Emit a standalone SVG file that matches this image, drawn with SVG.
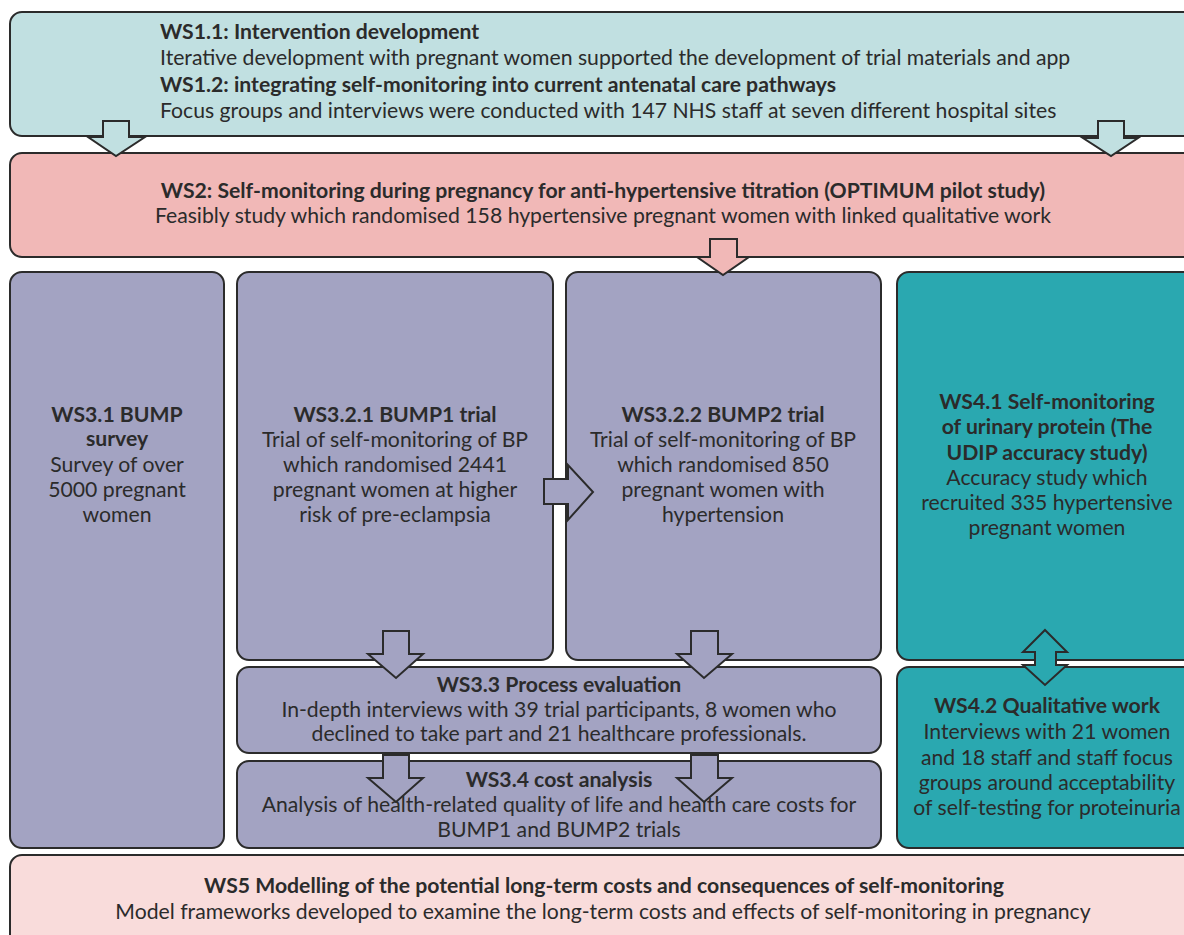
<svg xmlns="http://www.w3.org/2000/svg" width="1184" height="935" viewBox="0 0 1184 935">
<style>
.box{stroke:#2b2b2b;stroke-width:2}
.ws1{fill:#c1e0e1}
.ws2{fill:#f1b8b7}
.pur{fill:#a3a3c2}
.teal{fill:#2aa8b0}
.ws5{fill:#f9dcdb}
.arr{stroke:#2b2b2b;stroke-width:2;stroke-linejoin:miter}
text{font-family:Lato,"Noto Sans","Liberation Sans",sans-serif;font-size:21.2px;fill:#2b2b2b}
.b{font-weight:bold}
.c{text-anchor:middle}
</style>
<rect width="1184" height="935" fill="#ffffff"/>
<g id="ws1">
<rect class="box ws1" x="10" y="12" width="1200" height="124" rx="12"/>
<text x="160" y="39" class="b">WS1.1: Intervention development</text>
<text x="160" y="65">Iterative development with pregnant women supported the development of trial materials and app</text>
<text x="160" y="92" class="b">WS1.2: integrating self-monitoring into current antenatal care pathways</text>
<text x="160" y="118">Focus groups and interviews were conducted with 147 NHS staff at seven different hospital sites</text>
</g>
<g id="ws2">
<rect class="box ws2" x="10" y="153" width="1200" height="104" rx="12"/>
<text x="603" y="198" class="b c">WS2: Self-monitoring during pregnancy for anti-hypertensive titration (OPTIMUM pilot study)</text>
<text x="603" y="223" class="c">Feasibly study which randomised 158 hypertensive pregnant women with linked qualitative work</text>
</g>
<g id="ws31">
<rect class="box pur" x="10" y="272" width="214" height="576" rx="12"/>
<text x="117" y="422" class="b c">WS3.1 BUMP</text>
<text x="117" y="446" class="b c">survey</text>
<text x="117" y="472" class="c">Survey of over</text>
<text x="117" y="497" class="c">5000 pregnant</text>
<text x="117" y="522" class="c">women</text>
</g>
<g id="ws321">
<rect class="box pur" x="237" y="272" width="316" height="388" rx="12"/>
<text x="395" y="422" class="b c">WS3.2.1 BUMP1 trial</text>
<text x="395" y="447" class="c">Trial of self-monitoring of BP</text>
<text x="395" y="472" class="c">which randomised 2441</text>
<text x="395" y="497" class="c">pregnant women at higher</text>
<text x="395" y="522" class="c">risk of pre-eclampsia</text>
</g>
<g id="ws322">
<rect class="box pur" x="566" y="272" width="315" height="388" rx="12"/>
<text x="723" y="422" class="b c">WS3.2.2 BUMP2 trial</text>
<text x="723" y="447" class="c">Trial of self-monitoring of BP</text>
<text x="723" y="472" class="c">which randomised 850</text>
<text x="723" y="497" class="c">pregnant women with</text>
<text x="723" y="522" class="c">hypertension</text>
</g>
<g id="ws41">
<rect class="box teal" x="897" y="272" width="320" height="388" rx="12"/>
<text x="1047" y="409" class="b c">WS4.1 Self-monitoring</text>
<text x="1047" y="434" class="b c">of urinary protein (The</text>
<text x="1047" y="460" class="b c">UDIP accuracy study)</text>
<text x="1047" y="485" class="c">Accuracy study which</text>
<text x="1047" y="510" class="c">recruited 335 hypertensive</text>
<text x="1047" y="535" class="c">pregnant women</text>
</g>
<g id="ws33">
<rect class="box pur" x="237" y="667" width="644" height="86" rx="12"/>
<text x="559" y="692" class="b c">WS3.3 Process evaluation</text>
<text x="559" y="717" class="c">In-depth interviews with 39 trial participants, 8 women who</text>
<text x="559" y="741" class="c">declined to take part and 21 healthcare professionals.</text>
</g>
<g id="ws34">
<rect class="box pur" x="237" y="761" width="644" height="87" rx="12"/>
<text x="559" y="787" class="b c">WS3.4 cost analysis</text>
<text x="559" y="812" class="c">Analysis of health-related quality of life and health care costs for</text>
<text x="559" y="837" class="c">BUMP1 and BUMP2 trials</text>
</g>
<g id="ws42">
<rect class="box teal" x="897" y="667" width="320" height="181" rx="12"/>
<text x="1047" y="713" class="b c">WS4.2 Qualitative work</text>
<text x="1047" y="739" class="c">Interviews with 21 women</text>
<text x="1047" y="765" class="c">and 18 staff and staff focus</text>
<text x="1047" y="790" class="c">groups around acceptability</text>
<text x="1047" y="815" class="c">of self-testing for proteinuria</text>
</g>
<g id="ws5">
<rect class="box ws5" x="10" y="855" width="1200" height="110" rx="12"/>
<text x="604" y="893" class="b c">WS5 Modelling of the potential long-term costs and consequences of self-monitoring</text>
<text x="603" y="919" class="c">Model frameworks developed to examine the long-term costs and effects of self-monitoring in pregnancy</text>
</g>
<g id="connectors">
<polygon class="arr ws1" points="103,121 129,121 129,137 145,137 116,156 88,137 103,137"/>
<polygon class="arr ws1" points="1098,121 1124,121 1124,138 1138,138 1111,156 1083,138 1098,138"/>
<polygon class="arr ws2" points="710,239 737,239 737,257 749,257 723,275 697,257 710,257"/>
<polygon class="arr pur" points="544,479 568,479 568,465 593,492 568,520 568,504 544,504"/>
<polygon class="arr pur" points="383,631 409,631 409,654 423,654 396,678 368,654 383,654"/>
<polygon class="arr pur" points="691,631 718,631 718,654 732,654 704,678 677,654 691,654"/>
<polygon class="arr pur" points="383,755 409,755 409,778 423,778 396,802 368,778 383,778"/>
<polygon class="arr pur" points="691,755 718,755 718,778 732,778 704,802 677,778 691,778"/>
<polygon class="arr teal" points="1045,630 1067,652 1056,652 1056,665 1067,665 1045,685 1023,665 1035,665 1035,652 1023,652"/>
</g>
</svg>
